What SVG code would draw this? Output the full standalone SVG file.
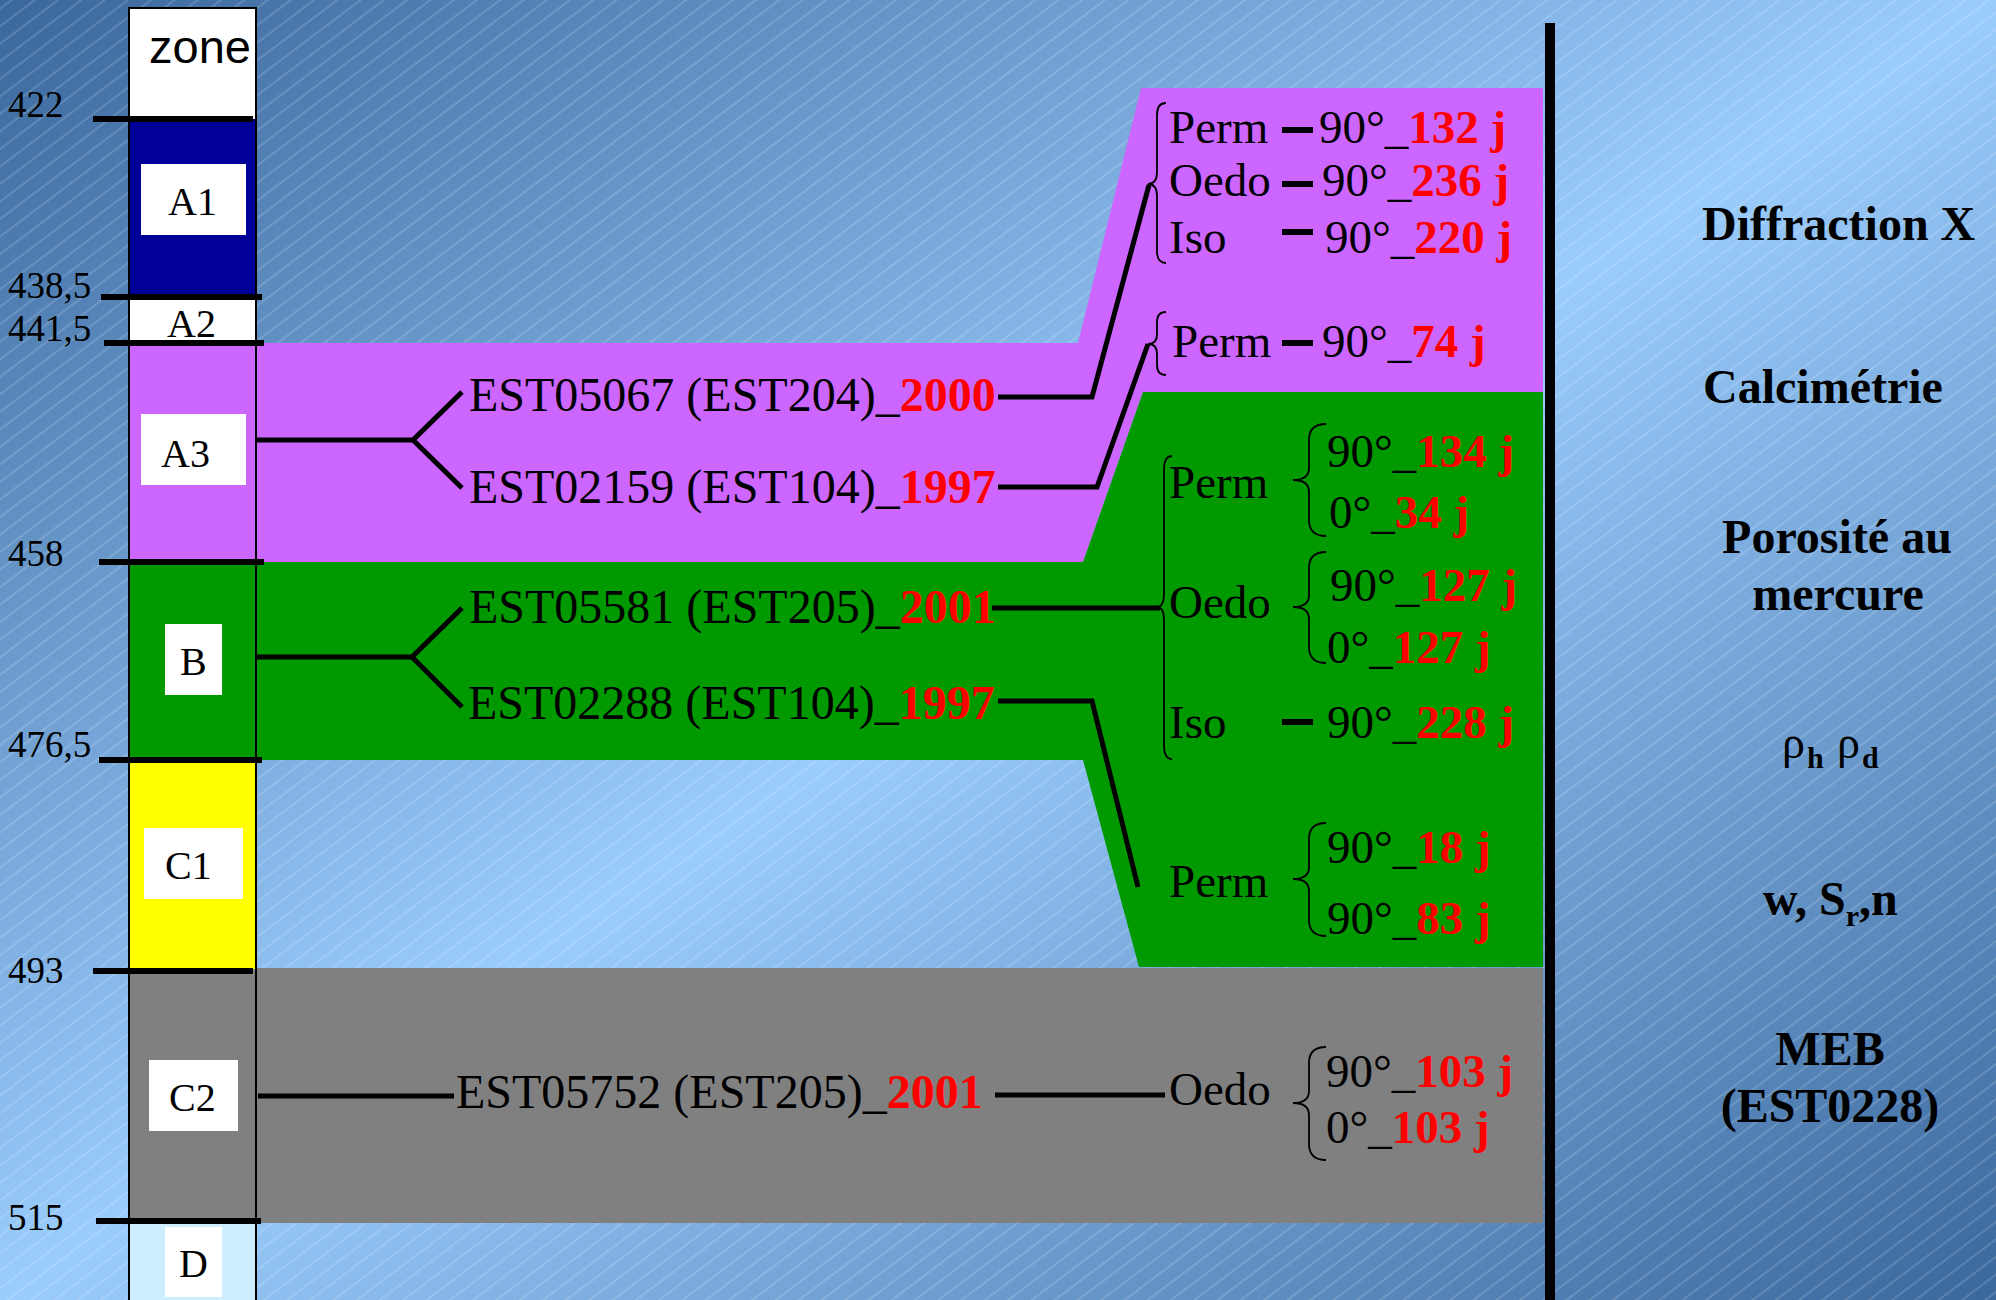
<svg xmlns="http://www.w3.org/2000/svg" width="1996" height="1300" viewBox="0 0 1996 1300">
<defs>
<linearGradient id="bg" x1="0" y1="0" x2="1" y2="1">
<stop offset="0" stop-color="#3a679c"/>
<stop offset="0.5" stop-color="#9accfc"/>
<stop offset="1" stop-color="#3a679c"/>
</linearGradient>
<pattern id="hatch" width="14" height="14" patternUnits="userSpaceOnUse" patternTransform="rotate(-37)">
<line x1="0" y1="7" x2="14" y2="7" stroke="#ffffff" stroke-opacity="0.3" stroke-width="1"/>
</pattern>
</defs>
<style>
.t{font-family:"Liberation Serif","Times New Roman",serif;fill:#000}
.est{font-size:48px}
.res{font-size:47px}
.red{fill:#ff0000;font-weight:bold}
.lab{font-size:48px;font-weight:bold}
.depth{font-size:37px}
.cell{font-size:40px}
.ln{stroke:#000;stroke-width:5;fill:none;stroke-linejoin:miter}
.tick{stroke:#000;stroke-width:6}
.dash{stroke:#000;stroke-width:6}
.brace{stroke:#000;stroke-width:1.8;fill:none}
.box{fill:#fff}
</style>
<rect x="0" y="0" width="1996" height="1300" fill="url(#bg)"/>
<rect x="0" y="0" width="1996" height="1300" fill="url(#hatch)"/>

<g id="bands">
<polygon id="band-A3" points="256,343 1078,343 1141,88 1543,88 1543,392 1143,392 1083,562 256,562" fill="#cc66ff"/>
<polygon id="band-B" points="256,562 1083,562 1143,392 1543,392 1543,967 1139,967 1083,760 256,760" fill="#009900"/>
<rect id="band-C2" x="256" y="968" width="1287" height="255" fill="#808080"/>
</g>

<g id="column">
<g id="cell-zone"><rect x="128" y="7" width="128" height="112" fill="#fff"/>
<text x="149" y="63" style="font-family:'Liberation Sans',Arial,sans-serif;font-size:47px">zone</text></g>
<g id="cell-A1"><rect x="128" y="119" width="128" height="178" fill="#000099"/>
<rect class="box" x="141" y="164" width="105" height="71"/><text class="t cell" x="168" y="215">A1</text></g>
<g id="cell-A2"><rect x="128" y="297" width="128" height="46" fill="#fff"/>
<text class="t cell" x="167" y="337">A2</text></g>
<g id="cell-A3"><rect x="128" y="343" width="128" height="219" fill="#cc66ff"/>
<rect class="box" x="141" y="414" width="105" height="71"/><text class="t cell" x="161" y="467">A3</text></g>
<g id="cell-B"><rect x="128" y="562" width="128" height="198" fill="#009900"/>
<rect class="box" x="165" y="624" width="57" height="71"/><text class="t cell" x="180" y="675">B</text></g>
<g id="cell-C1"><rect x="128" y="760" width="128" height="209" fill="#ffff00"/>
<rect class="box" x="144" y="828" width="99" height="71"/><text class="t cell" x="165" y="879">C1</text></g>
<g id="cell-C2"><rect x="128" y="969" width="128" height="252" fill="#808080"/>
<rect class="box" x="149" y="1060" width="89" height="71"/><text class="t cell" x="169" y="1111">C2</text></g>
<g id="cell-D"><rect x="128" y="1221" width="128" height="85" fill="#cceeff"/>
<rect class="box" x="165" y="1227" width="57" height="70"/><text class="t cell" x="179" y="1277">D</text></g>
<rect x="129" y="8" width="127" height="1300" fill="none" stroke="#000" stroke-width="2"/>
</g>

<g id="depths">
<line class="tick" x1="93" y1="119" x2="253" y2="119"/><text class="t depth" x="8" y="117">422</text>
<line class="tick" x1="101" y1="297" x2="262" y2="297"/><text class="t depth" x="8" y="298">438,5</text>
<line class="tick" x1="104" y1="343" x2="264" y2="343"/><text class="t depth" x="8" y="341">441,5</text>
<line class="tick" x1="99" y1="562" x2="264" y2="562"/><text class="t depth" x="8" y="566">458</text>
<line class="tick" x1="99" y1="760" x2="262" y2="760"/><text class="t depth" x="8" y="757">476,5</text>
<line class="tick" x1="93" y1="971" x2="253" y2="971"/><text class="t depth" x="8" y="983">493</text>
<line class="tick" x1="96" y1="1221" x2="261" y2="1221"/><text class="t depth" x="8" y="1230">515</text>
</g>

<g id="connectors">
<polyline class="ln" points="256,440 413,440"/>
<polyline class="ln" points="462,392 413,440 462,488"/>
<polyline class="ln" points="256,657 412,657"/>
<polyline class="ln" points="462,608 412,657 462,707"/>
<polyline class="ln" points="258,1096 454,1096"/>
<polyline class="ln" points="998,397 1092,397 1149,185"/>
<polyline class="ln" points="998,487 1097,487 1148,344"/>
<polyline class="ln" points="992,608 1160,608"/>
<polyline class="ln" points="998,701 1092,701 1138,887"/>
<polyline class="ln" points="995,1095 1165,1095"/>
</g>

<g id="samples">
<text id="s-EST05067" class="t est" x="469" y="411">EST05067 (EST204)_<tspan class="red">2000</tspan></text>
<text id="s-EST02159" class="t est" x="469" y="503">EST02159 (EST104)_<tspan class="red">1997</tspan></text>
<text id="s-EST05581" class="t est" x="469" y="623">EST05581 (EST205)_<tspan class="red">2001</tspan></text>
<text id="s-EST02288" class="t est" x="468" y="719">EST02288 (EST104)_<tspan class="red">1997</tspan></text>
<text id="s-EST05752" class="t est" x="456" y="1108">EST05752 (EST205)_<tspan class="red">2001</tspan></text>
</g>

<g id="res-EST05067">
<path class="brace" d="M1166,103 Q1157,103 1157,115 L1157,172 Q1157,184 1148,184 Q1157,184 1157,196 L1157,251 Q1157,263 1166,263"/>
<text class="t res" x="1169" y="143">Perm</text>
<line class="dash" x1="1282" y1="130" x2="1313" y2="130"/>
<text class="t res" x="1319" y="143">90°_<tspan class="red">132 j</tspan></text>
<text class="t res" x="1169" y="196">Oedo</text>
<line class="dash" x1="1282" y1="184" x2="1313" y2="184"/>
<text class="t res" x="1322" y="196">90°_<tspan class="red">236 j</tspan></text>
<text class="t res" x="1169" y="253">Iso</text>
<line class="dash" x1="1282" y1="232" x2="1313" y2="232"/>
<text class="t res" x="1325" y="253">90°_<tspan class="red">220 j</tspan></text>
</g>

<g id="res-EST02159">
<path class="brace" d="M1166,312 Q1157,312 1157,322 L1157,334 Q1157,344 1148,344 Q1157,344 1157,354 L1157,365 Q1157,375 1166,375"/>
<text class="t res" x="1172" y="357">Perm</text>
<line class="dash" x1="1282" y1="343" x2="1313" y2="343"/>
<text class="t res" x="1322" y="357">90°_<tspan class="red">74 j</tspan></text>
</g>

<g id="res-EST05581">
<path class="brace" d="M1172,456 Q1164,456 1164,470 L1164,593 Q1164,607 1157,607 Q1164,607 1164,621 L1164,745 Q1164,759 1172,759"/>
<text class="t res" x="1169" y="498">Perm</text>
<path class="brace" d="M1326,424 Q1309,424 1309,440 L1309,468 Q1309,480 1293,480 Q1309,480 1309,492 L1309,520 Q1309,536 1326,536"/>
<text class="t res" x="1327" y="467">90°_<tspan class="red">134 j</tspan></text>
<text class="t res" x="1329" y="528">0°_<tspan class="red">34 j</tspan></text>
<text class="t res" x="1169" y="618">Oedo</text>
<path class="brace" d="M1326,552 Q1309,552 1309,568 L1309,595 Q1309,607 1293,607 Q1309,607 1309,619 L1309,647 Q1309,663 1326,663"/>
<text class="t res" x="1330" y="601">90°_<tspan class="red">127 j</tspan></text>
<text class="t res" x="1327" y="663">0°_<tspan class="red">127 j</tspan></text>
<text class="t res" x="1169" y="738">Iso</text>
<line class="dash" x1="1282" y1="722" x2="1313" y2="722"/>
<text class="t res" x="1327" y="738">90°_<tspan class="red">228 j</tspan></text>
</g>

<g id="res-EST02288">
<text class="t res" x="1169" y="897">Perm</text>
<path class="brace" d="M1326,823 Q1309,823 1309,839 L1309,867 Q1309,879 1293,879 Q1309,879 1309,891 L1309,920 Q1309,936 1326,936"/>
<text class="t res" x="1327" y="863">90°_<tspan class="red">18 j</tspan></text>
<text class="t res" x="1327" y="934">90°_<tspan class="red">83 j</tspan></text>
</g>

<g id="res-EST05752">
<text class="t res" x="1169" y="1105">Oedo</text>
<path class="brace" d="M1326,1047 Q1309,1047 1309,1063 L1309,1091 Q1309,1103 1293,1103 Q1309,1103 1309,1115 L1309,1144 Q1309,1160 1326,1160"/>
<text class="t res" x="1326" y="1087">90°_<tspan class="red">103 j</tspan></text>
<text class="t res" x="1326" y="1143">0°_<tspan class="red">103 j</tspan></text>
</g>

<rect id="divider" x="1545" y="23" width="10" height="1277" fill="#000"/>

<g id="analyses">
<text id="a-drx" class="t lab" x="1702" y="240">Diffraction X</text>
<text id="a-calc" class="t lab" x="1703" y="403">Calcimétrie</text>
<text id="a-poro" class="t lab" text-anchor="middle"><tspan x="1837" y="553">Porosité au</tspan><tspan x="1838" y="610">mercure</tspan></text>
<text id="a-rho" class="t" style="font-size:46px"><tspan x="1782" y="758">ρ</tspan><tspan x="1807" y="768" style="font-size:30px;font-weight:bold">h</tspan><tspan x="1837" y="758">ρ</tspan><tspan x="1862" y="768" style="font-size:30px;font-weight:bold">d</tspan></text>
<text id="a-wsn" class="t lab" x="1763" y="915">w, S<tspan dy="11" style="font-size:30px">r</tspan><tspan dy="-11">,n</tspan></text>
<text id="a-meb" class="t lab" text-anchor="middle"><tspan x="1830" y="1065">MEB</tspan><tspan x="1830" y="1122">(EST0228)</tspan></text>
</g>
</svg>
